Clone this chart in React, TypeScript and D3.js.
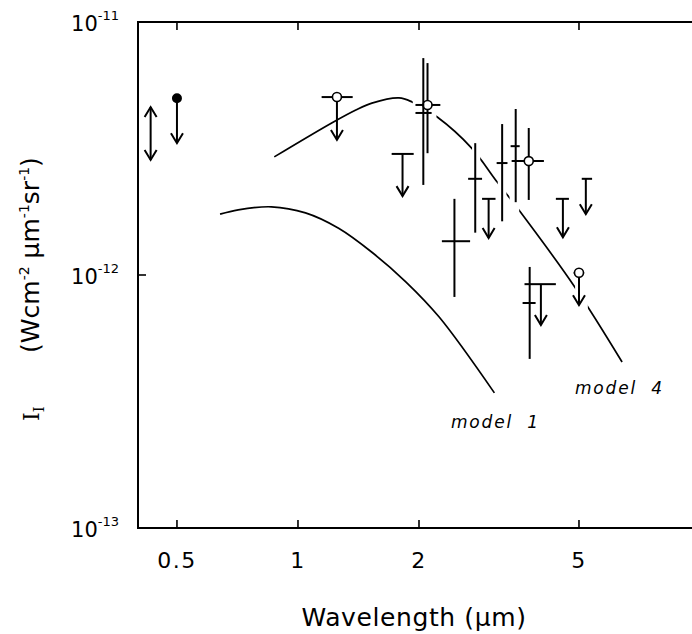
import React from 'react'
import * as d3 from 'd3'

const W = 692, H = 634

const xTickValues = [0.5, 1, 2, 5]
const xTickLabels = ['0.5', '1', '2', '5']
const yTickValues = [1e-13, 1e-12, 1e-11]
const yTickExponents = ['-13', '-12', '-11']

// intensities below are in units of 1e-12 W cm^-2 um^-1 sr^-1
// detections with error bars
const detLambda = [2.10, 2.05, 2.45, 2.76, 3.22, 3.48, 3.75, 3.77]
const detValue = [4.70, 4.37, 1.36, 2.40, 2.77, 3.23, 2.82, 0.775]
const detLambdaLo = [1.96, 1.96, 2.28, 2.65, 3.12, 3.38, 3.40, 3.62]
const detLambdaHi = [2.26, 2.15, 2.68, 2.87, 3.32, 3.56, 4.09, 3.90]
const detValueLo = [3.03, 2.27, 0.819, 1.47, 1.63, 1.94, 1.98, 0.466]
const detValueHi = [6.88, 7.2, 2.0, 3.32, 3.95, 4.53, 3.81, 1.076]
const detMarker = ['circle', 'none', 'none', 'none', 'none', 'none', 'circle', 'none']

// upper limits
const ulLambda = [0.50, 1.25, 1.82, 2.98, 4.56, 5.20, 5.0, 4.02]
const ulValue = [5.0, 5.05, 3.01, 2.0, 2.0, 2.40, 1.02, 0.92]
const ulArrowTo = [3.32, 3.42, 2.05, 1.40, 1.41, 1.74, 0.76, 0.634]
const ulLambdaLo = [0.50, 1.145, 1.71, 2.87, 4.38, 5.08, 4.85, 3.66]
const ulLambdaHi = [0.50, 1.368, 1.94, 3.10, 4.72, 5.39, 5.15, 4.38]
const ulMarker = ['dot', 'circle', 'none', 'none', 'none', 'none', 'circle', 'none']

// range (double arrow)
const rangeLambda = [0.43]
const rangeLo = [2.85]
const rangeHi = [4.61]

// model curves
const model1Lambda = [0.640, 0.710, 0.859, 1.044, 1.262, 1.527, 1.857, 2.245, 3.08]
const model1Value = [1.74, 1.81, 1.86, 1.76, 1.53, 1.23, 0.938, 0.682, 0.342]
const model4Lambda = [0.873, 1.213, 1.393, 1.527, 1.783, 1.922, 2.22, 2.70, 3.13, 3.56, 4.88, 6.40]
const model4Value = [2.93, 3.99, 4.49, 4.78, 5.01, 4.83, 4.21, 3.18, 2.33, 1.79, 0.897, 0.453]
const model4Gaps = [[1.93, 2.21], [2.71, 2.84], [3.14, 3.30], [3.36, 3.55], [4.89, 5.26]]

const font = '"DejaVu Sans", sans-serif'

export default function App() {
  const x = d3.scaleLog().domain([0.4, 10]).range([138, 700])
  const y = d3.scaleLog().domain([1e-13, 1e-11]).range([528, 22])
  const yv = (v: number) => y(v * 1e-12)

  const line = d3.line<[number, number]>()
    .x(d => x(d[0]))
    .y(d => yv(d[1]))
    .curve(d3.curveCatmullRom.alpha(0.5))

  const m1 = line(model1Lambda.map((l, i) => [l, model1Value[i]]))
  const m4 = line(model4Lambda.map((l, i) => [l, model4Value[i]]))

  const [x0, x1] = x.range()
  const [y0, y1] = y.range()
  const tick = 8
  const sw = 2

  const arrowDown = (px: number, py: number) =>
    `M${px - 6},${py - 10}L${px},${py}L${px + 6},${py - 10}`
  const arrowUp = (px: number, py: number) =>
    `M${px - 6},${py + 10}L${px},${py}L${px + 6},${py + 10}`

  return (
    <svg width={W} height={H} style={{ position: 'absolute', left: 0, top: 0, background: '#fff' }}>
      <defs>
        <mask id="m4gaps">
          <rect x={0} y={0} width={W} height={H} fill="#fff" />
          {model4Gaps.map((g, i) => (
            <rect key={i} x={x(g[0])} y={0} width={x(g[1]) - x(g[0])} height={H} fill="#000" />
          ))}
        </mask>
      </defs>

      {/* frame */}
      <rect x={x0} y={y1} width={x1 - x0} height={y0 - y1} fill="none" stroke="#000" strokeWidth={2} />
      {xTickValues.map(v => (
        <g key={v} stroke="#000" strokeWidth={1.6}>
          <line x1={x(v)} x2={x(v)} y1={y0} y2={y0 - tick} />
          <line x1={x(v)} x2={x(v)} y1={y1} y2={y1 + tick} />
        </g>
      ))}
      {yTickValues.slice(1, -1).map(v => (
        <g key={v} stroke="#000" strokeWidth={1.6}>
          <line x1={x0} x2={x0 + tick} y1={y(v)} y2={y(v)} />
          <line x1={x1} x2={x1 - tick} y1={y(v)} y2={y(v)} />
        </g>
      ))}

      {/* tick labels */}
      {xTickValues.map((v, i) => (
        <text key={v} x={x(v)} y={568} textAnchor="middle" fontFamily={font} fontSize={22} letterSpacing={1.5}>
          {xTickLabels[i]}
        </text>
      ))}
      {yTickValues.map((v, i) => (
        <text key={v} x={119} y={y(v) + 9} textAnchor="end" fontFamily={font} fontSize={21}>
          10<tspan dy={-11} fontSize={13}>{yTickExponents[i]}</tspan>
        </text>
      ))}

      {/* axis titles */}
      <text x={414} y={626} textAnchor="middle" fontFamily={font} fontSize={25} letterSpacing={0.6}>
        Wavelength (µm)
      </text>
      <text transform="translate(39,421) rotate(-90)" fontFamily='"DejaVu Serif", serif' fontSize={22}>
        I<tspan dy={5} fontSize={15}>I</tspan>
      </text>
      <text transform="translate(39,255) rotate(-90)" textAnchor="middle" fontFamily={font} fontSize={25} style={{ whiteSpace: 'pre' }}>
        (Wcm<tspan dy={-10} fontSize={14}>-2</tspan><tspan dy={10}> µm</tspan><tspan dy={-10} fontSize={14}>-1</tspan><tspan dy={10}>sr</tspan><tspan dy={-10} fontSize={14}>-1</tspan><tspan dy={10}>)</tspan>
      </text>

      {/* models */}
      <path d={m1 || ''} fill="none" stroke="#000" strokeWidth={1.7} />
      <path d={m4 || ''} fill="none" stroke="#000" strokeWidth={1.7} mask="url(#m4gaps)" />
      <text x={451} y={428} fontFamily={font} fontStyle="italic" fontSize={17} letterSpacing={1.8} style={{ whiteSpace: 'pre' }}>model  1</text>
      <text x={575} y={394} fontFamily={font} fontStyle="italic" fontSize={17} letterSpacing={1.8} style={{ whiteSpace: 'pre' }}>model  4</text>

      {/* range arrow */}
      {rangeLambda.map((l, i) => (
        <g key={i} stroke="#000" strokeWidth={sw} fill="none">
          <line x1={x(l)} x2={x(l)} y1={yv(rangeHi[i])} y2={yv(rangeLo[i])} />
          <path d={arrowUp(x(l), yv(rangeHi[i]))} />
          <path d={arrowDown(x(l), yv(rangeLo[i]))} />
        </g>
      ))}

      {/* upper limits */}
      {ulLambda.map((l, i) => (
        <g key={i} stroke="#000" strokeWidth={sw} fill="none">
          {ulLambdaHi[i] > ulLambdaLo[i] && (
            <line x1={x(ulLambdaLo[i])} x2={x(ulLambdaHi[i])} y1={yv(ulValue[i])} y2={yv(ulValue[i])} />
          )}
          <line x1={x(l)} x2={x(l)} y1={yv(ulValue[i])} y2={yv(ulArrowTo[i])} />
          <path d={arrowDown(x(l), yv(ulArrowTo[i]))} />
          {ulMarker[i] === 'dot' && <circle cx={x(l)} cy={yv(ulValue[i])} r={4} fill="#000" />}
          {ulMarker[i] === 'circle' && <circle cx={x(l)} cy={yv(ulValue[i])} r={4.5} fill="#fff" strokeWidth={1.6} />}
        </g>
      ))}

      {/* detections */}
      {detLambda.map((l, i) => (
        <g key={i} stroke="#000" strokeWidth={sw} fill="none">
          <line x1={x(detLambdaLo[i])} x2={x(detLambdaHi[i])} y1={yv(detValue[i])} y2={yv(detValue[i])} />
          <line x1={x(l)} x2={x(l)} y1={yv(detValueLo[i])} y2={yv(detValueHi[i])} />
          {detMarker[i] === 'circle' && <circle cx={x(l)} cy={yv(detValue[i])} r={4.5} fill="#fff" strokeWidth={1.6} />}
        </g>
      ))}
    </svg>
  )
}
